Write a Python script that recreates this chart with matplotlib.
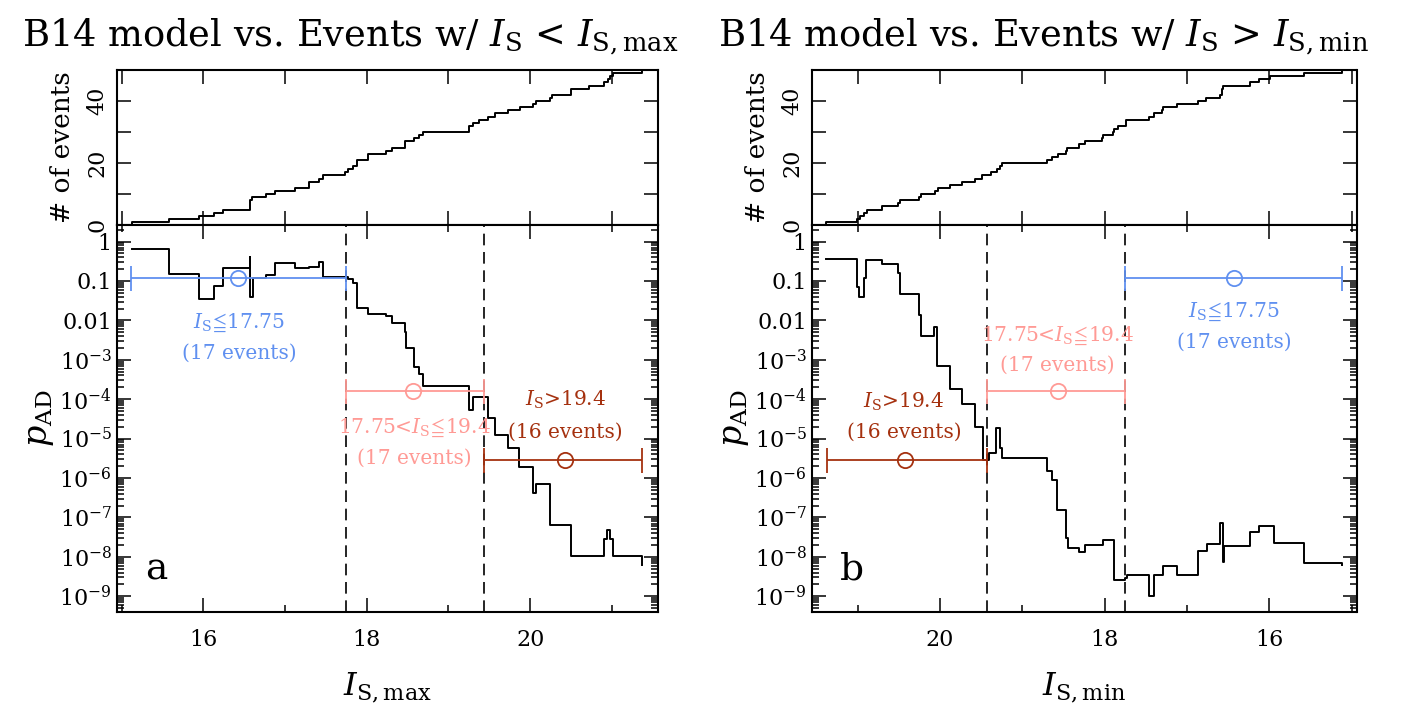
import numpy as np
import matplotlib
matplotlib.use('Agg')
from matplotlib import pyplot as plt
from matplotlib.ticker import MultipleLocator, LogLocator, FuncFormatter, NullFormatter

plt.rcParams['font.family'] = ['DejaVu Serif', 'DejaVu Sans']
plt.rcParams['mathtext.fontset'] = 'dejavuserif'

# ---- panel a: events with I_S < I_S,max ----
max_cum_x = [14.94, 15.127, 15.585, 15.948, 16.131, 16.240, 16.568, 16.60, 16.773, 16.873,
             17.127, 17.297, 17.419, 17.463, 17.73, 17.769, 17.834, 17.886, 18.017, 18.240,
             18.314, 18.467, 18.576, 18.642, 18.694, 19.253, 19.297, 19.376, 19.485, 19.568,
             19.725, 19.878, 20.031, 20.070, 20.236, 20.271, 20.498, 20.716, 20.904, 20.948,
             20.978, 21.009, 21.371]
max_cum_n = [0, 1, 2, 3, 4, 5, 8, 9, 10, 11,
             12, 14, 15, 16, 17, 18, 19, 21, 23, 24,
             25, 27, 28, 29, 30, 32, 33, 34, 35, 36,
             37, 38, 39, 40, 41, 42, 44, 45, 46, 47,
             48, 49, 50]

max_pad_x = [15.127, 15.585, 15.948, 16.131, 16.240, 16.568, 16.575, 16.611, 16.764, 16.873,
             17.127, 17.297, 17.419, 17.463, 17.769, 17.834, 17.886, 18.017, 18.240, 18.314,
             18.467, 18.480, 18.576, 18.642, 18.694, 19.253, 19.297, 19.485, 19.568, 19.725,
             19.865, 20.031, 20.070, 20.236, 20.498, 20.904, 20.934, 20.978, 21.009, 21.371]
max_pad_log = [-0.19, -0.83, -1.47, -1.13, -0.68, -0.38, -1.40, -0.93, -0.86, -0.55,
               -0.68, -0.64, -0.51, -0.89, -0.95, -1.06, -1.69, -1.83, -1.89, -2.06,
               -2.29, -2.69, -3.18, -3.36, -3.66, -4.28, -3.94, -4.47, -4.91, -5.25,
               -5.73, -6.38, -6.16, -7.18, -7.99, -7.54, -7.32, -7.54, -7.99, -8.20]

# ---- panel b: events with I_S > I_S,min ----
min_cum_x = [21.56, 21.383, 21.013, 20.970, 20.926, 20.891, 20.709, 20.513, 20.483, 20.252,
             20.230, 20.057, 20.022, 19.883, 19.730, 19.570, 19.491, 19.383, 19.309, 19.274,
             19.252, 18.696, 18.643, 18.570, 18.470, 18.457, 18.317, 18.243, 18.035, 18.022,
             17.900, 17.891, 17.839, 17.745, 17.743, 17.457, 17.404, 17.305, 17.296, 17.122,
             16.870, 16.774, 16.600, 16.580, 16.572, 16.565, 16.239, 16.130, 15.991, 15.578,
             15.122]
min_cum_n = list(range(0, 51))

min_pad_x = [21.383, 21.013, 20.991, 20.926, 20.896, 20.709, 20.513, 20.491, 20.261, 20.230,
             20.078, 20.035, 19.883, 19.730, 19.570, 19.483, 19.404, 19.326, 19.274, 19.252,
             18.696, 18.643, 18.578, 18.470, 18.448, 18.309, 18.243, 18.022, 17.891, 17.883,
             17.752, 17.730, 17.457, 17.404, 17.296, 17.122, 16.870, 16.761, 16.600, 16.565,
             16.552, 16.239, 16.122, 15.948, 15.578, 15.122]
min_pad_log = [-0.44, -1.15, -1.41, -0.92, -0.48, -0.56, -0.80, -1.34, -1.87, -2.39,
               -2.18, -3.16, -3.73, -4.11, -4.70, -5.54, -5.37, -4.74, -5.24, -5.50,
               -5.83, -6.04, -6.82, -7.53, -7.78, -7.89, -7.69, -7.57, -7.93, -8.60,
               -8.53, -8.47, -9.00, -8.47, -8.24, -8.47, -7.84, -7.68, -7.13, -8.14,
               -7.72, -7.38, -7.23, -7.65, -8.16, -8.20]

# ---- I_S groups ----
group_names = ['$I_\\mathrm{S}\\!\\leqq\\!$17.75', '17.75<$I_\\mathrm{S}\\!\\leqq\\!$19.4',
               '$I_\\mathrm{S}$>19.4']
group_counts = [17, 17, 16]
group_lo = [15.12, 17.75, 19.43]
group_hi = [17.75, 19.43, 21.37]
group_mid = [16.43, 18.57, 20.43]
group_log_p = [-0.93, -3.78, -5.55]
group_colors = ['#6090f0', '#ff9a95', '#a5310f']
cuts = [17.75, 19.43]


def log_label(v, pos):
    if v >= 0.99:
        return '1'
    if abs(v - 0.1) < 1e-6:
        return '0.1'
    if abs(v - 0.01) < 1e-7:
        return '0.01'
    return '$10^{%d}$' % int(round(np.log10(v)))


def make_column(left, width, cum_x, cum_n, pad_x, pad_log, xlim, xlabel, letter, label_pos):
    ax_t = fig.add_axes([left, 1 - 225 / 705, width, 155 / 705])
    ax_b = fig.add_axes([left, 1 - 612 / 705, width, 387 / 705])

    # cumulative number of events
    ax_t.step(cum_x, cum_n, where='post', color='k', lw=1.4)
    ax_t.set_xlim(*xlim)
    ax_t.set_ylim(0, 50)
    ax_t.xaxis.set_major_locator(MultipleLocator(1))
    ax_t.yaxis.set_major_locator(MultipleLocator(20))
    ax_t.yaxis.set_minor_locator(MultipleLocator(10))
    ax_t.set_ylabel('# of events', fontsize=19, labelpad=8)
    ax_t.tick_params(axis='y', labelrotation=90, labelsize=16, pad=6)
    for t in ax_t.get_yticklabels():
        t.set_va('center')
    ax_t.tick_params(axis='x', which='both', labelbottom=False)

    # p_AD
    ax_b.step(pad_x, 10.0 ** np.array(pad_log), where='post', color='k', lw=1.4)
    ax_b.set_xlim(*xlim)
    ax_b.set_yscale('log')
    ax_b.set_ylim(10 ** -9.4, 10 ** 0.42)
    ax_b.yaxis.set_major_locator(LogLocator(base=10, numticks=20))
    ax_b.yaxis.set_minor_locator(LogLocator(base=10, subs=np.arange(2, 10), numticks=20))
    ax_b.yaxis.set_major_formatter(FuncFormatter(log_label))
    ax_b.yaxis.set_minor_formatter(NullFormatter())
    ax_b.xaxis.set_major_locator(MultipleLocator(2))
    ax_b.xaxis.set_minor_locator(MultipleLocator(1))
    ax_b.set_ylabel('$p_\\mathrm{AD}$', fontsize=24, labelpad=2)
    ax_b.set_xlabel(xlabel, fontsize=23, labelpad=14)
    ax_b.tick_params(labelsize=16)
    ax_b.tick_params(axis='x', pad=12)

    for c in cuts:
        ax_b.axvline(c, color='k', lw=1.2, ls=(0, (7, 4)))

    for i in range(3):
        ax_b.errorbar(group_mid[i], 10 ** group_log_p[i],
                      xerr=[[group_mid[i] - group_lo[i]], [group_hi[i] - group_mid[i]]],
                      fmt='o', mfc='none', mec=group_colors[i], ms=11, mew=1.3,
                      color=group_colors[i], lw=1.3, capsize=9, capthick=1.3)
        tx, ty1, ty2 = label_pos[i]
        ax_b.text(tx, 10 ** ty1, group_names[i], color=group_colors[i], fontsize=14.5,
                  ha='center', va='center')
        ax_b.text(tx, 10 ** ty2, '(%d events)' % group_counts[i], color=group_colors[i],
                  fontsize=14.5, ha='center', va='center')

    ax_b.text(0.052, 0.084, letter, transform=ax_b.transAxes, fontsize=27,
              ha='left', va='baseline')

    for ax in (ax_t, ax_b):
        ax.tick_params(which='both', direction='in', top=True, right=True, width=1.1)
        ax.tick_params(which='major', length=10)
        ax.tick_params(which='minor', length=5)
        for s in ax.spines.values():
            s.set_linewidth(1.5)
    ax_t.tick_params(axis='y', which='minor', length=10)
    return ax_t, ax_b


fig = plt.figure(figsize=(14.07, 7.05), dpi=100)

make_column(116.7 / 1407, 541 / 1407, max_cum_x, max_cum_n, max_pad_x, max_pad_log,
            (14.94, 21.56), '$I_\\mathrm{S,max}$', 'a',
            [(16.44, -2.07, -2.83), (18.58, -4.74, -5.50), (20.43, -4.02, -4.83)])
make_column(811.7 / 1407, 544.8 / 1407, min_cum_x, min_cum_n, min_pad_x, min_pad_log,
            (21.56, 14.94), '$I_\\mathrm{S,min}$', 'b',
            [(16.43, -1.79, -2.56), (18.57, -2.39, -3.15), (20.44, -4.07, -4.84)])

fig.text(22 / 1407, 1 - 37 / 705, 'B14 model vs. Events w/ $I_\\mathrm{S}$ < $I_\\mathrm{S,max}$',
         fontsize=26.5, ha='left', va='center')
fig.text(718 / 1407, 1 - 37 / 705, 'B14 model vs. Events w/ $I_\\mathrm{S}$ > $I_\\mathrm{S,min}$',
         fontsize=26.5, ha='left', va='center')

fig.savefig('out.png', dpi=100)
